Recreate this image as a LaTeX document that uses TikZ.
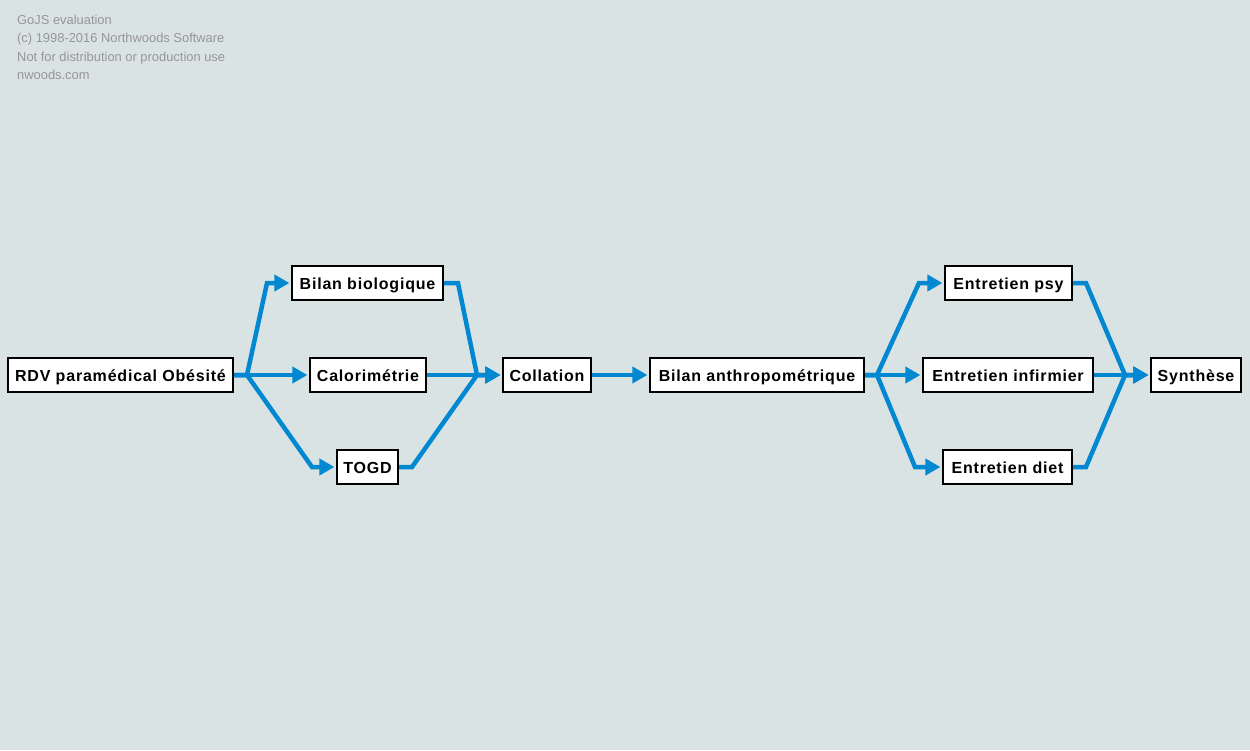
\documentclass[tikz,border=0pt]{standalone}
\usepackage{fontspec}
\setmainfont{Liberation Sans}
\newfontfamily\nodefont{Liberation Sans}[LetterSpace=5]
\usetikzlibrary{arrows.meta}
\definecolor{bgcol}{RGB}{218,227,228}
\definecolor{linkcol}{RGB}{2,136,209}
\definecolor{wmcol}{RGB}{150,150,150}
\tikzset{
  task/.style={draw=black, line width=2.2pt, fill=white, rectangle,
    minimum height=34pt, inner sep=0pt, text height=15pt, text depth=3pt,
    font=\nodefont\bfseries\fontsize{16}{19}\selectfont},
  link/.style={draw=linkcol, line width=4.5pt, line join=miter, shorten >=1.5pt,
    -{Triangle[length=15pt,width=16pt]}},
  wm/.style={anchor=base west, inner sep=0pt, text=wmcol,
    font=\fontsize{12.9}{15}\selectfont}
}
\begin{document}
\begin{tikzpicture}[x=1pt,y=-1pt]
\useasboundingbox (0,0) rectangle (1250,750);
\fill[bgcol] (0,0) rectangle (1250,750);
\node[wm] (w1) at (17,24) {GoJS evaluation};
\node[wm] (w2) at (17,42.5) {(c) 1998-2016 Northwoods Software};
\node[wm] (w3) at (17,61) {Not for distribution or production use};
\node[wm] (w4) at (17,79.5) {nwoods.com};

\node[task, minimum width=225pt] (rdv) at (120.5,375) {RDV paramédical Obésité};
\node[task, minimum width=151pt] (bio) at (367.5,283) {Bilan biologique};
\node[task, minimum width=116pt] (calo) at (368,375) {Calorimétrie};
\node[task, minimum width=61pt] (togd) at (367.5,467) {TOGD};
\node[task, minimum width=88pt] (coll) at (547,375) {Collation};
\node[task, minimum width=214pt] (anthro) at (757,375) {Bilan anthropométrique};
\node[task, minimum width=127pt] (psy) at (1008.5,283) {Entretien psy};
\node[task, minimum width=170pt] (inf) at (1008,375) {Entretien infirmier};
\node[task, minimum width=129pt] (diet) at (1007.5,467) {Entretien diet};
\node[task, minimum width=90pt] (syn) at (1196,375) {Synthèse};

\coordinate (j1) at (247,375);
\coordinate (b1) at (267,283);
\coordinate (t1) at (312,467);
\coordinate (b2) at (458,283);
\coordinate (t2) at (412,467);
\coordinate (j2) at (477,375);
\coordinate (j3) at (877,375);
\coordinate (p1) at (919,283);
\coordinate (d1) at (915,467);
\coordinate (p2) at (1086,283);
\coordinate (d2) at (1086,467);
\coordinate (j4) at (1125,375);

\draw[link] (rdv.east) -- (j1) -- (b1) -- (bio.west);
\draw[link] (rdv.east) -- (calo.west);
\draw[link] (rdv.east) -- (j1) -- (t1) -- (togd.west);
\draw[link] (bio.east) -- (b2) -- (j2) -- (coll.west);
\draw[link] (calo.east) -- (coll.west);
\draw[link] (togd.east) -- (t2) -- (j2) -- (coll.west);
\draw[link] (coll.east) -- (anthro.west);
\draw[link] (anthro.east) -- (j3) -- (p1) -- (psy.west);
\draw[link] (anthro.east) -- (inf.west);
\draw[link] (anthro.east) -- (j3) -- (d1) -- (diet.west);
\draw[link] (psy.east) -- (p2) -- (j4) -- (syn.west);
\draw[link] (inf.east) -- (syn.west);
\draw[link] (diet.east) -- (d2) -- (j4) -- (syn.west);
\end{tikzpicture}
\end{document}
